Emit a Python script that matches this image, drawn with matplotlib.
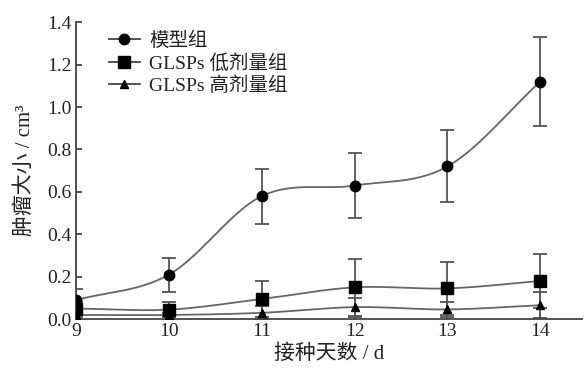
import matplotlib
matplotlib.use("Agg")
import matplotlib.pyplot as plt
import numpy as np

plt.rcParams['font.family'] = ['Liberation Serif', 'Noto Sans CJK SC']

days = [9, 10, 11, 12, 13, 14]
model = [0.09, 0.21, 0.58, 0.63, 0.72, 1.12]
model_err = [0.05, 0.08, 0.13, 0.155, 0.17, 0.21]
low = [0.05, 0.045, 0.095, 0.15, 0.145, 0.18]
low_err = [0.03, 0.035, 0.085, 0.135, 0.125, 0.125]
high = [0.02, 0.02, 0.03, 0.057, 0.046, 0.066]
high_err = [0.01, 0.01, 0.03, 0.045, 0.035, 0.06]
labels = ["模型组", "GLSPs 低剂量组", "GLSPs 高剂量组"]


def smooth(x, y, n=30):
    # Catmull-Rom curve through the points, for drawing only
    x = np.asarray(x, float)
    y = np.asarray(y, float)
    px = np.concatenate([[2 * x[0] - x[1]], x, [2 * x[-1] - x[-2]]])
    py = np.concatenate([[2 * y[0] - y[1]], y, [2 * y[-1] - y[-2]]])
    xs, ys = [], []
    t = np.linspace(0, 1, n)
    for i in range(1, len(px) - 2):
        for p, out in ((px, xs), (py, ys)):
            p0, p1, p2, p3 = p[i - 1], p[i], p[i + 1], p[i + 2]
            out.extend(0.5 * (2 * p1 + (-p0 + p2) * t
                              + (2 * p0 - 5 * p1 + 4 * p2 - p3) * t ** 2
                              + (-p0 + 3 * p1 - 3 * p2 + p3) * t ** 3))
    return xs, ys


fig = plt.figure(figsize=(5.85, 3.69), dpi=100)
ax = fig.add_axes([0.13, 0.135, 0.865, 0.805])

series = [(model, model_err, 'o', 7.5), (low, low_err, 's', 8), (high, high_err, '^', 5.5)]
for (vals, err, mk, ms), lab in zip(series, labels):
    ax.errorbar(days, vals, yerr=err, fmt='none', ecolor='#555555',
                elinewidth=1.3, capsize=5, capthick=1.3, zorder=2)
    sx, sy = smooth(days, vals)
    ax.plot(sx, sy, color='#666666', lw=1.3, zorder=3)
    ax.plot(days, vals, linestyle='none', marker=mk, ms=ms, color='black', zorder=4)
    ax.plot([], [], color='#444444', lw=1.3, marker=mk, ms=ms,
            markerfacecolor='black', markeredgecolor='black', label=lab)

ax.set_xlim(9, 14.45)
ax.set_ylim(0, 1.4)
ax.set_xticks(days)
ax.set_yticks(np.arange(0, 1.41, 0.2))
ax.yaxis.set_major_formatter(matplotlib.ticker.FormatStrFormatter('%.1f'))
ax.spines['top'].set_visible(False)
ax.spines['right'].set_visible(False)
for s in ('left', 'bottom'):
    ax.spines[s].set_color('#444444')
    ax.spines[s].set_linewidth(1.3)
ax.tick_params(direction='in', length=4, width=1.3, colors='#444444',
               labelcolor='#222222', labelsize=14, pad=3)
ax.set_xlabel("接种天数 / d", fontsize=15, color='#222222', labelpad=3)
ax.set_ylabel("肿瘤大小 / cm³", fontsize=15, color='#222222', labelpad=9)

leg = ax.legend(loc='upper left', bbox_to_anchor=(0.045, 1.0), frameon=False,
                fontsize=14, handlelength=1.6, handletextpad=0.5,
                labelspacing=0.2, borderaxespad=0.1)
for t in leg.get_texts():
    t.set_color('#222222')

fig.savefig("out.png", dpi=100)
